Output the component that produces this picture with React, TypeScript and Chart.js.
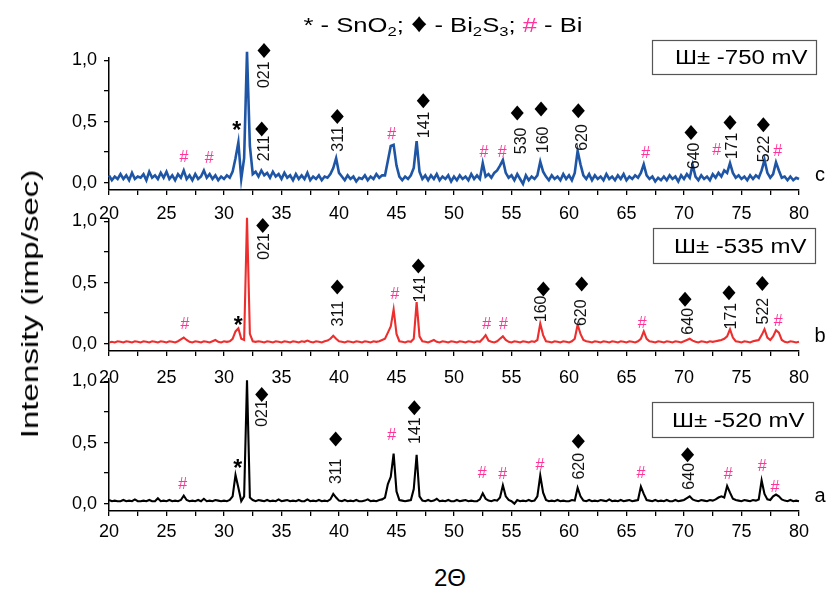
import React, { useEffect, useRef } from 'react';
import { Chart, registerables } from 'chart.js';

Chart.register(...registerables);

// 2θ sampling grid (degrees), 0.25° step from 20 to 80
const TWO_THETA_START = 20;
const TWO_THETA_STEP = 0.25;

// Panel a: E = -520 mV (black)
const INTENSITY_A = [
  0.03, 0.02, 0.025, 0.02,
  0.02, 0.03, 0.02, 0.025,
  0.02, 0.035, 0.02, 0.02,
  0.025, 0.02, 0.03, 0.02,
  0.02, 0.045, 0.02, 0.025,
  0.02, 0.03, 0.02, 0.025,
  0.02, 0.03, 0.065, 0.03,
  0.02, 0.025, 0.02, 0.03,
  0.02, 0.04, 0.02, 0.025,
  0.02, 0.03, 0.025, 0.02,
  0.025, 0.02, 0.03, 0.06,
  0.235, 0.13, 0.02, 0.06,
  1.01, 0.05, 0.03, 0.02,
  0.03, 0.025, 0.02, 0.03,
  0.02, 0.025, 0.02, 0.035,
  0.02, 0.025, 0.03, 0.02,
  0.025, 0.02, 0.03, 0.02,
  0.02, 0.035, 0.02, 0.025,
  0.02, 0.03, 0.02, 0.025,
  0.02, 0.035, 0.08, 0.05,
  0.025, 0.02, 0.03, 0.02,
  0.025, 0.02, 0.03, 0.02,
  0.02, 0.025, 0.035, 0.02,
  0.025, 0.02, 0.03, 0.035,
  0.05, 0.16, 0.22, 0.41,
  0.1, 0.03, 0.025, 0.02,
  0.025, 0.03, 0.12, 0.4,
  0.06, 0.025, 0.02, 0.03,
  0.02, 0.025, 0.04, 0.02,
  0.025, 0.02, 0.03, 0.02,
  0.02, 0.03, 0.02, 0.025,
  0.03, 0.02, 0.025, 0.02,
  0.02, 0.035, 0.085, 0.04,
  0.025, 0.02, 0.03, 0.025,
  0.05, 0.15, 0.06, 0.03,
  0.02, 0.0, 0.03, 0.02,
  0.025, 0.02, 0.03, 0.02,
  0.025, 0.06, 0.23, 0.09,
  0.03, 0.02, 0.025, 0.02,
  0.03, 0.02, 0.025, 0.02,
  0.02, 0.03, 0.025, 0.13,
  0.06, 0.025, 0.02, 0.03,
  0.02, 0.025, 0.02, 0.03,
  0.025, 0.02, 0.035, 0.02,
  0.025, 0.02, 0.03, 0.02,
  0.025, 0.03, 0.02, 0.025,
  0.03, 0.14, 0.08, 0.03,
  0.025, 0.02, 0.03, 0.02,
  0.025, 0.02, 0.03, 0.02,
  0.02, 0.03, 0.02, 0.025,
  0.03, 0.045, 0.06, 0.035,
  0.025, 0.02, 0.03, 0.025,
  0.02, 0.03, 0.025, 0.035,
  0.05, 0.06, 0.05, 0.145,
  0.09, 0.04, 0.03, 0.025,
  0.02, 0.03, 0.025, 0.02,
  0.03, 0.025, 0.035, 0.19,
  0.08, 0.035, 0.03, 0.06,
  0.075, 0.06, 0.035, 0.025,
  0.02, 0.03, 0.02, 0.025,
  0.02,
];

// Panel b: E = -535 mV (red)
const INTENSITY_B = [
  0.01, 0.015, 0.01, 0.02,
  0.015, 0.01, 0.02, 0.015,
  0.01, 0.02, 0.015, 0.01,
  0.02, 0.015, 0.01, 0.02,
  0.015, 0.01, 0.02, 0.015,
  0.01, 0.02, 0.015, 0.01,
  0.02, 0.035, 0.05, 0.03,
  0.015, 0.01, 0.02, 0.015,
  0.01, 0.02, 0.015, 0.01,
  0.02, 0.03, 0.015, 0.01,
  0.02, 0.015, 0.02, 0.04,
  0.1, 0.125, 0.04, 0.03,
  1.03, 0.08, 0.02, 0.015,
  0.02, 0.015, 0.01, 0.02,
  0.015, 0.01, 0.02, 0.015,
  0.01, 0.02, 0.015, 0.01,
  0.02, 0.015, 0.01, 0.02,
  0.015, 0.025, 0.015, 0.01,
  0.02, 0.015, 0.01, 0.02,
  0.025, 0.04, 0.065, 0.04,
  0.02, 0.015, 0.01, 0.02,
  0.015, 0.01, 0.02, 0.015,
  0.01, 0.02, 0.015, 0.01,
  0.02, 0.015, 0.02, 0.03,
  0.04, 0.09, 0.14, 0.28,
  0.08, 0.02, 0.015, 0.01,
  0.02, 0.015, 0.04, 0.34,
  0.06, 0.02, 0.015, 0.01,
  0.02, 0.03, 0.015, 0.01,
  0.02, 0.015, 0.01, 0.02,
  0.015, 0.01, 0.02, 0.015,
  0.01, 0.02, 0.015, 0.01,
  0.02, 0.015, 0.04, 0.07,
  0.025, 0.015, 0.01, 0.02,
  0.04, 0.06, 0.03, 0.015,
  0.01, 0.02, 0.015, 0.01,
  0.02, 0.015, 0.01, 0.02,
  0.015, 0.03, 0.165, 0.07,
  0.02, 0.015, 0.01, 0.02,
  0.015, 0.01, 0.02, 0.015,
  0.01, 0.02, 0.04, 0.155,
  0.08, 0.03, 0.02, 0.015,
  0.01, 0.02, 0.015, 0.01,
  0.02, 0.015, 0.01, 0.02,
  0.015, 0.01, 0.02, 0.015,
  0.01, 0.02, 0.015, 0.01,
  0.02, 0.04, 0.1, 0.04,
  0.02, 0.015, 0.01, 0.02,
  0.015, 0.01, 0.02, 0.015,
  0.01, 0.02, 0.015, 0.01,
  0.02, 0.03, 0.04, 0.025,
  0.015, 0.01, 0.02, 0.015,
  0.01, 0.02, 0.015, 0.02,
  0.025, 0.03, 0.04, 0.06,
  0.118, 0.05, 0.02, 0.015,
  0.01, 0.02, 0.015, 0.01,
  0.02, 0.025, 0.03, 0.07,
  0.118, 0.05, 0.03, 0.06,
  0.11, 0.09, 0.03, 0.015,
  0.01, 0.02, 0.015, 0.01,
  0.015,
];

// Panel c: E = -750 mV (blue)
const INTENSITY_C = [
  0.06, 0.02, 0.05, 0.03,
  0.07, 0.03, 0.06, 0.02,
  0.08, 0.03, 0.05, 0.04,
  0.07, 0.02, 0.09, 0.04,
  0.06, 0.03, 0.08, 0.04,
  0.09, 0.03, 0.06, 0.02,
  0.07, 0.04, 0.1, 0.03,
  0.06, 0.02, 0.07, 0.03,
  0.05, 0.1, 0.04, 0.07,
  0.03, 0.06, 0.02, 0.05,
  0.03, 0.06, 0.04, 0.09,
  0.2, 0.33, 0.03, 0.2,
  1.07, 0.3, 0.07, 0.09,
  0.05, 0.1, 0.06, 0.08,
  0.04, 0.09, 0.05, 0.07,
  0.03, 0.08, 0.04, 0.06,
  0.02, 0.07, 0.03, 0.06,
  0.03, 0.08, 0.02, 0.05,
  0.03, 0.06, 0.02, 0.05,
  0.04, 0.07, 0.12, 0.2,
  0.08, 0.05, 0.02, 0.06,
  0.03, 0.05, 0.01, 0.04,
  0.03, 0.06, 0.02, 0.05,
  0.03, 0.07, 0.04, 0.06,
  0.06, 0.18, 0.3, 0.31,
  0.14, 0.05, 0.02, 0.05,
  0.03, 0.06, 0.12, 0.34,
  0.09, 0.03, 0.06, 0.02,
  0.06, 0.03, 0.07, 0.02,
  0.05, 0.03, 0.06, 0.01,
  0.05, 0.02, 0.06, 0.03,
  0.05, 0.02, 0.07, 0.03,
  0.06, 0.03, 0.16, 0.05,
  0.07, 0.04, 0.08, 0.1,
  0.14, 0.185, 0.08, 0.04,
  0.06, 0.02, 0.07, 0.03,
  -0.01, 0.06, 0.02, 0.05,
  0.03, 0.06, 0.172, 0.09,
  0.05, 0.02, 0.06, 0.03,
  0.05, 0.02, 0.07, 0.03,
  0.06, 0.02, 0.08, 0.26,
  0.15, 0.06, 0.03, 0.07,
  0.02, 0.06, 0.03, 0.05,
  0.02, 0.07, 0.03, 0.05,
  0.02, 0.06, 0.03, 0.07,
  0.02, 0.05, 0.03, 0.06,
  0.04, 0.08, 0.15, 0.06,
  0.03, 0.05, 0.01, 0.04,
  0.02, 0.05, 0.02, 0.06,
  0.03, 0.05, 0.01, 0.06,
  0.03, 0.07, 0.04, 0.145,
  0.05, 0.02, 0.06, 0.03,
  0.05, 0.02, 0.07, 0.04,
  0.08, 0.05, 0.1, 0.08,
  0.16, 0.08, 0.04, 0.06,
  0.03, 0.05, 0.02, 0.06,
  0.03, 0.06, 0.04, 0.1,
  0.186, 0.08, 0.04, 0.07,
  0.167, 0.1, 0.04, 0.05,
  0.02, 0.05, 0.02, 0.04,
  0.03,
];

// Phase markers: [2θ, intensity]
const DIAMONDS_C = [[33.48, 1.082], [33.28, 0.44], [39.85, 0.541], [47.33, 0.67], [55.5, 0.569], [57.57, 0.602], [60.81, 0.588], [70.61, 0.41], [74.0, 0.492], [76.9, 0.473]];
const HKL_C = [[33.48, 0.883, '021'], [33.48, 0.28, '211'], [39.85, 0.358, '311'], [47.33, 0.473, '141'], [55.8, 0.342, '530'], [57.68, 0.35, '160'], [61.1, 0.37, '620'], [70.87, 0.219, '640'], [74.15, 0.3, '171'], [76.96, 0.276, '522']];
const HASH_C = [[26.52, 0.213], [28.72, 0.205], [44.58, 0.405], [52.61, 0.254], [54.2, 0.254], [66.67, 0.249], [72.84, 0.268], [78.15, 0.26]];
const STAR_C = [[31.1, 0.473]];

const DIAMONDS_B = [[33.37, 0.967], [39.85, 0.463], [46.9, 0.636], [57.77, 0.447], [61.1, 0.488], [70.09, 0.364], [73.91, 0.416], [76.81, 0.493]];
const HKL_B = [[33.42, 0.796, '021'], [39.85, 0.245, '311'], [46.98, 0.447, '141'], [57.57, 0.285, '160'], [61.04, 0.253, '620'], [70.29, 0.183, '640'], [74.09, 0.225, '171'], [76.81, 0.266, '522']];
const HASH_B = [[26.61, 0.164], [44.87, 0.411], [52.84, 0.164], [54.29, 0.164], [66.37, 0.173], [78.2, 0.19]];
const STAR_B = [[31.24, 0.19]];

const DIAMONDS_A = [[33.28, 0.893], [39.71, 0.53], [46.55, 0.784], [60.81, 0.51], [70.31, 0.4]];
const HKL_A = [[33.28, 0.738, '021'], [39.71, 0.265, '311'], [46.61, 0.598, '141'], [60.81, 0.306, '620'], [70.38, 0.224, '640']];
const HASH_A = [[26.41, 0.164], [44.58, 0.566], [52.46, 0.252], [54.23, 0.246], [57.48, 0.32], [66.26, 0.252], [73.85, 0.243], [76.81, 0.311], [77.91, 0.142]];
const STAR_A = [[31.19, 0.334]];

const POTENTIAL_LABELS = ['Ш± -750 mV', 'Ш± -535 mV', 'Ш± -520 mV'];
const SAMPLE_LETTERS = ['c', 'b', 'a'];

const X_TICKS_MIN = 20;
const X_TICKS_MAX = 80;

const FONT = '"Liberation Sans", Arial, Helvetica, sans-serif';
const PINK = '#ff3399';

type Panel = {
  values: number[];
  color: string;
  lineWidth: number;
  top: number;
  tickPad: number;
  diamonds: number[][];
  hkl: any[][];
  hashes: number[][];
  stars: number[][];
  label: string;
  letter: string;
  box: number[]; // [x1, yTop, x2, yBottom] in data units
};

const PANELS: Panel[] = [
  { values: INTENSITY_C, color: '#1f55a5', lineWidth: 2.6, top: 26, tickPad: 8, diamonds: DIAMONDS_C, hkl: HKL_C, hashes: HASH_C, stars: STAR_C, label: POTENTIAL_LABELS[0], letter: SAMPLE_LETTERS[0], box: [67.22, 1.168, 81.48, 0.889] },
  { values: INTENSITY_B, color: '#ee2d2d', lineWidth: 2.1, top: 187, tickPad: 11, diamonds: DIAMONDS_B, hkl: HKL_B, hashes: HASH_B, stars: STAR_B, label: POTENTIAL_LABELS[1], letter: SAMPLE_LETTERS[1], box: [67.3, 0.949, 81.4, 0.658] },
  { values: INTENSITY_A, color: '#000000', lineWidth: 2.1, top: 347, tickPad: 5, diamonds: DIAMONDS_A, hkl: HKL_A, hashes: HASH_A, stars: STAR_A, label: POTENTIAL_LABELS[2], letter: SAMPLE_LETTERS[2], box: [67.22, 0.83, 81.22, 0.548] },
];

function makeMarksPlugin(p: Panel) {
  return {
    id: 'xrdMarks',
    afterDatasetsDraw(chart: any) {
      const { ctx, scales, chartArea } = chart;
      const xs = scales.x;
      const ys = scales.y;
      ctx.save();
      // diamonds
      ctx.fillStyle = '#000';
      for (const [dx, dy] of p.diamonds) {
        const px = xs.getPixelForValue(dx);
        const py = ys.getPixelForValue(dy);
        ctx.beginPath();
        ctx.moveTo(px, py - 7.5);
        ctx.lineTo(px + 6.5, py);
        ctx.lineTo(px, py + 7.5);
        ctx.lineTo(px - 6.5, py);
        ctx.closePath();
        ctx.fill();
      }
      // hkl labels (vertical)
      ctx.font = '16px ' + FONT;
      ctx.textAlign = 'center';
      ctx.textBaseline = 'middle';
      ctx.fillStyle = '#111';
      for (const [dx, dy, t] of p.hkl) {
        const px = xs.getPixelForValue(dx);
        const py = ys.getPixelForValue(dy);
        ctx.save();
        ctx.translate(px, py);
        ctx.rotate(-Math.PI / 2);
        ctx.fillText(t, 0, 1);
        ctx.restore();
      }
      // Bi markers
      ctx.fillStyle = PINK;
      ctx.font = '16px ' + FONT;
      for (const [dx, dy] of p.hashes) {
        ctx.fillText('#', xs.getPixelForValue(dx), ys.getPixelForValue(dy) + 1);
      }
      // SnO2 markers
      ctx.fillStyle = '#000';
      ctx.font = 'bold 23px ' + FONT;
      ctx.textBaseline = 'alphabetic';
      for (const [dx, dy] of p.stars) {
        ctx.fillText('*', xs.getPixelForValue(dx), ys.getPixelForValue(dy) + 13);
      }
      // potential box
      const bx1 = Math.round(xs.getPixelForValue(p.box[0])) + 0.5;
      const by1 = Math.round(ys.getPixelForValue(p.box[1])) + 0.5;
      const bx2 = Math.round(xs.getPixelForValue(p.box[2])) + 0.5;
      const by2 = Math.round(ys.getPixelForValue(p.box[3])) + 0.5;
      ctx.fillStyle = '#fff';
      ctx.fillRect(bx1, by1, bx2 - bx1, by2 - by1);
      ctx.strokeStyle = '#555';
      ctx.lineWidth = 1.2;
      ctx.strokeRect(bx1, by1, bx2 - bx1, by2 - by1);
      ctx.fillStyle = '#000';
      ctx.font = '20px ' + FONT;
      ctx.textAlign = 'right';
      ctx.textBaseline = 'middle';
      ctx.save();
      ctx.translate(bx2 - 9, (by1 + by2) / 2 + 1);
      ctx.scale(1.2, 1);
      ctx.fillText(p.label, 0, 0);
      ctx.restore();
      // sample letter
      ctx.textAlign = 'center';
      ctx.font = '20px ' + FONT;
      ctx.fillText(p.letter, chartArea.right + 21, ys.getPixelForValue(0.06));
      ctx.restore();
    },
  };
}

function PanelChart({ p }: { p: Panel }) {
  const ref = useRef<HTMLCanvasElement | null>(null);
  useEffect(() => {
    if (!ref.current) return;
    const points = p.values.map((v, i) => ({ x: TWO_THETA_START + i * TWO_THETA_STEP, y: v }));
    const chart = new Chart(ref.current, {
      type: 'line',
      data: {
        datasets: [
          {
            data: points,
            borderColor: p.color,
            borderWidth: p.lineWidth,
            pointRadius: 0,
            tension: 0,
            fill: false,
            clip: false as any,
          },
        ],
      },
      options: {
        responsive: false,
        animation: false,
        devicePixelRatio: 1,
        layout: { padding: { left: 0, right: 28, top: 32, bottom: 0 } },
        plugins: { legend: { display: false }, tooltip: { enabled: false } },
        scales: {
          x: {
            type: 'linear',
            min: X_TICKS_MIN,
            max: X_TICKS_MAX,
            afterFit: (s: any) => { s.height = 45; },
            border: { display: true, color: '#000', width: 1.5 },
            grid: { drawOnChartArea: false, drawTicks: true, tickLength: 5, color: '#000', lineWidth: 1.3 },
            ticks: {
              stepSize: 2.5,
              autoSkip: false,
              maxRotation: 0,
              padding: p.tickPad,
              color: '#000',
              font: { family: FONT, size: 18 },
              callback: (v: any) => (Math.abs(v % 5) < 1e-6 ? String(v) : ''),
            },
          },
          y: {
            type: 'linear',
            min: -0.06,
            max: 1.02,
            afterFit: (s: any) => { s.width = 109; },
            border: { display: true, color: '#000', width: 1.5 },
            grid: { drawOnChartArea: false, drawTicks: true, tickLength: 5, color: '#000', lineWidth: 1.3 },
            ticks: {
              stepSize: 0.25,
              includeBounds: false,
              padding: 7,
              color: '#000',
              font: { family: FONT, size: 18 },
              callback: (v: any) => (Math.abs(v * 2 - Math.round(v * 2)) < 1e-6 ? Number(v).toFixed(1).replace('.', ',') : ''),
            },
          },
        },
      },
      plugins: [makeMarksPlugin(p)],
    });
    return () => chart.destroy();
  }, [p]);
  return (
    <canvas
      ref={ref}
      width={827}
      height={209}
      style={{ position: 'absolute', left: 0, top: p.top, width: 827, height: 209 }}
    />
  );
}

export default function App() {
  const subStyle = { fontSize: '0.65em', verticalAlign: '-0.3em', lineHeight: 0 } as const;
  return (
    <div style={{ position: 'absolute', left: 0, top: 0, width: 827, height: 589, background: '#fff', overflow: 'hidden', fontFamily: FONT }}>
      {PANELS.map((p, i) => (
        <PanelChart key={i} p={p} />
      ))}
      <div
        style={{
          position: 'absolute', left: 443, top: 13, whiteSpace: 'nowrap', fontSize: 21, lineHeight: '24px',
          transform: 'translateX(-50%) scaleX(1.22)', color: '#000',
        }}
      >
        * - SnO<sub style={subStyle}>2</sub>; <span style={{ fontSize: '1.25em', lineHeight: 0 }}>♦</span> - Bi
        <sub style={subStyle}>2</sub>S
        <sub style={subStyle}>3</sub>;{' '}
        <span style={{ color: PINK }}>#</span> - Bi
      </div>
      <div
        style={{
          position: 'absolute', left: 30, top: 304, whiteSpace: 'nowrap', fontSize: 24, lineHeight: '28px',
          transform: 'translate(-50%, -50%) rotate(-90deg) scaleX(1.38)', color: '#000',
        }}
      >
        Intensity (imp/sec)
      </div>
      <div
        style={{
          position: 'absolute', left: 450, top: 578, whiteSpace: 'nowrap', fontSize: 24, lineHeight: '28px',
          transform: 'translate(-50%, -50%)', color: '#000',
        }}
      >
        2Θ
      </div>
    </div>
  );
}
